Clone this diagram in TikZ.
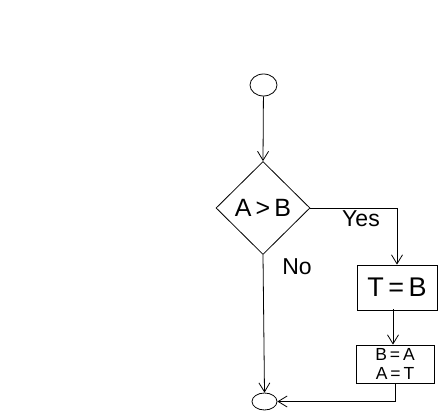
\documentclass[tikz,border=0pt]{standalone}
\usepackage{fontspec}
\setmainfont{Liberation Sans}
\usetikzlibrary{shapes.geometric,arrows.meta}
\begin{document}
\begin{tikzpicture}[x=1pt,y=-1pt,
  line width=0.8pt,
  every node/.style={inner sep=0pt},
  term/.style={draw, ellipse},
  decision/.style={draw, diamond, minimum width=94pt, minimum height=93pt, font=\fontsize{25}{30}\selectfont},
  procbox/.style={draw, rectangle, minimum width=80pt},
  flow/.style={draw, -{Straight Barb[length=9pt,width=11pt]}},
  lbl/.style={font=\fontsize{23}{28}\selectfont}
]
\useasboundingbox (0,0) rectangle (439,411);
\node[term, minimum width=27pt, minimum height=22pt] (start) at (263.5,85) {};
\node[decision] (dec) at (263,208) {A\,>\,B};
\node[procbox, minimum height=45pt, font=\fontsize{27}{30}\selectfont] (t) at (397,287.5) {T\,=\,B};
\node[procbox, minimum width=78pt, minimum height=38pt, font=\fontsize{17.5}{18.5}\selectfont, align=center] (ba) at (395,364) {B\,=\,A\\A\,=\,T};
\node[term, minimum width=25pt, minimum height=17pt] (end) at (264.5,401.5) {};
\coordinate (tb) at (393,309.5);
\draw[flow] (start) -- (dec.north);
\draw[flow] (dec.east) -- (dec.east -| t.north) -- (t.north);
\draw[flow] (dec.south) -- (end.north);
\draw[flow] (tb) -- (tb |- ba.north);
\draw[flow] (ba.south) -- (ba.south |- end.east) -- (end.east);
\node[lbl] (yes) at (361,219) {Yes};
\node[lbl] (no) at (297,267) {No};
\end{tikzpicture}
\end{document}
